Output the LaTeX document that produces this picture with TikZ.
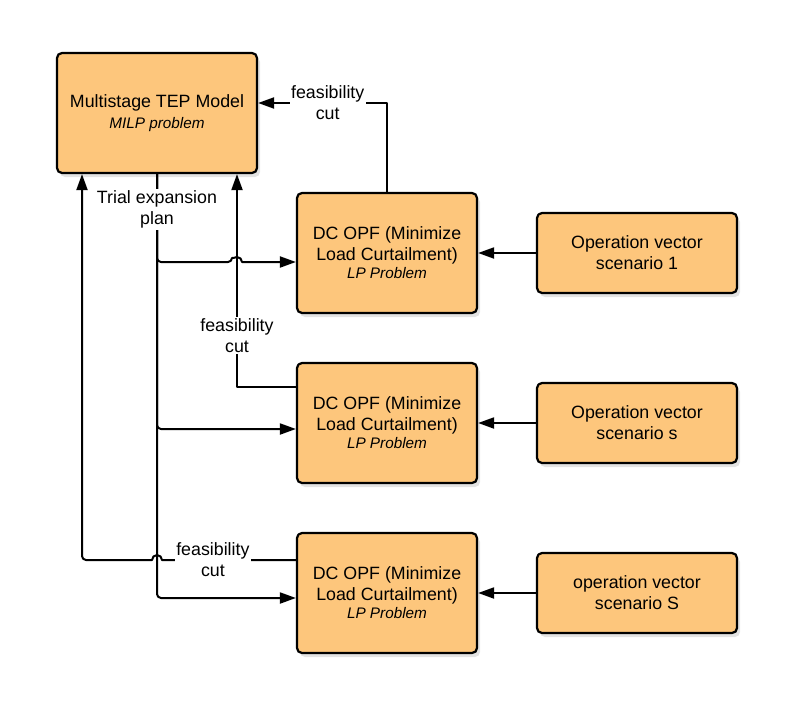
\documentclass[tikz,border=0pt]{standalone}
\usepackage{fontspec}
\setmainfont{Liberation Sans}
\usepackage{tikz}
\usetikzlibrary{arrows.meta, positioning, shadows, calc}
\definecolor{boxorange}{RGB}{253, 198, 124}
\newcommand{\subtxt}[1]{{\fontsize{15.3}{18}\selectfont\itshape #1}}

\begin{document}
\begin{tikzpicture}[x=1pt, y=1pt, line join=round, >={Triangle[length=16pt, width=11pt]},
    block/.style={draw, line width=2.2pt, rounded corners=5pt, fill=boxorange, align=center,
        drop shadow={shadow xshift=3pt, shadow yshift=-4pt, opacity=0.22},
        font=\fontsize{17.8}{21}\selectfont, inner sep=0pt},
    opfbox/.style={block, minimum width=180pt, minimum height=120pt},
    vecbox/.style={block, minimum width=200pt, minimum height=80pt},
    cutlabel/.style={fill=white, align=center, inner sep=1.5pt, font=\fontsize{17.8}{21}\selectfont},
    link/.style={line width=2pt}]
    \useasboundingbox (0,0) rectangle (794,-706);

    % Bài toán chính
    \node[block, minimum width=200pt, minimum height=120pt] (tep) at (157,-113)
        {Multistage TEP Model\\\subtxt{MILP problem}};

    % Các bài toán con DC OPF
    \node[opfbox] (opf1) at (387,-253) {DC OPF (Minimize\\Load Curtailment)\\[-3pt]\subtxt{LP Problem}};
    \node[opfbox] (opf2) at (387,-423) {DC OPF (Minimize\\Load Curtailment)\\[-3pt]\subtxt{LP Problem}};
    \node[opfbox] (opf3) at (387,-593) {DC OPF (Minimize\\Load Curtailment)\\[-3pt]\subtxt{LP Problem}};

    % Các kịch bản vận hành
    \node[vecbox] (vec1) at (637,-253) {Operation vector\\scenario 1};
    \node[vecbox] (vec2) at (637,-423) {Operation vector\\scenario s};
    \node[vecbox] (vec3) at (637,-593) {operation vector\\scenario S};

    \draw[link, ->] (vec1) -- (opf1);
    \draw[link, ->] (vec2) -- (opf2);
    \draw[link, ->] (vec3) -- (opf3);

    % Điểm nối
    \coordinate (tin1) at ([yshift=-9pt]opf1.west);
    \coordinate (tin2) at ([yshift=-6pt]opf2.west);
    \coordinate (tin3) at ([yshift=-5pt]opf3.west);
    \coordinate (fin1) at ([yshift=10pt]tep.east);
    \coordinate (fout2) at ([yshift=36pt]opf2.west);
    \coordinate (fin2) at ([xshift=80pt]tep.south);
    \coordinate (fout3) at ([yshift=33pt]opf3.west);
    \coordinate (fin3) at ([xshift=-75pt]tep.south);
    \coordinate (hop1) at (fin2 |- tin1);
    \coordinate (hop3) at (tep.south |- fout3);

    % Lát cắt khả thi
    \draw[link, ->] (opf1.north) |- node[pos=0.73, cutlabel] {feasibility\\cut} (fin1);
    \draw[link, ->] (fout2) -| node[pos=0.62, cutlabel] {feasibility\\cut} (fin2);

    % Phương án mở rộng thử
    \draw[link, ->] (tep.south) [rounded corners=4pt] |- ([xshift=-5pt]hop1) [sharp corners]
        arc[start angle=180, end angle=0, radius=5pt] -- (tin1);
    \draw[link, ->, rounded corners=4pt] (tep.south) |- (tin2);
    \draw[link, ->, rounded corners=4pt] (tep.south) |- (tin3);
    \node[cutlabel, below=15pt of tep] (trial) {Trial expansion\\plan};

    \draw[link, ->] (fout3) -- node[pos=0.62, cutlabel] {feasibility\\cut} ([xshift=5pt]hop3)
        arc[start angle=0, end angle=180, radius=5pt] [rounded corners=4pt] -| (fin3);
\end{tikzpicture}
\end{document}
